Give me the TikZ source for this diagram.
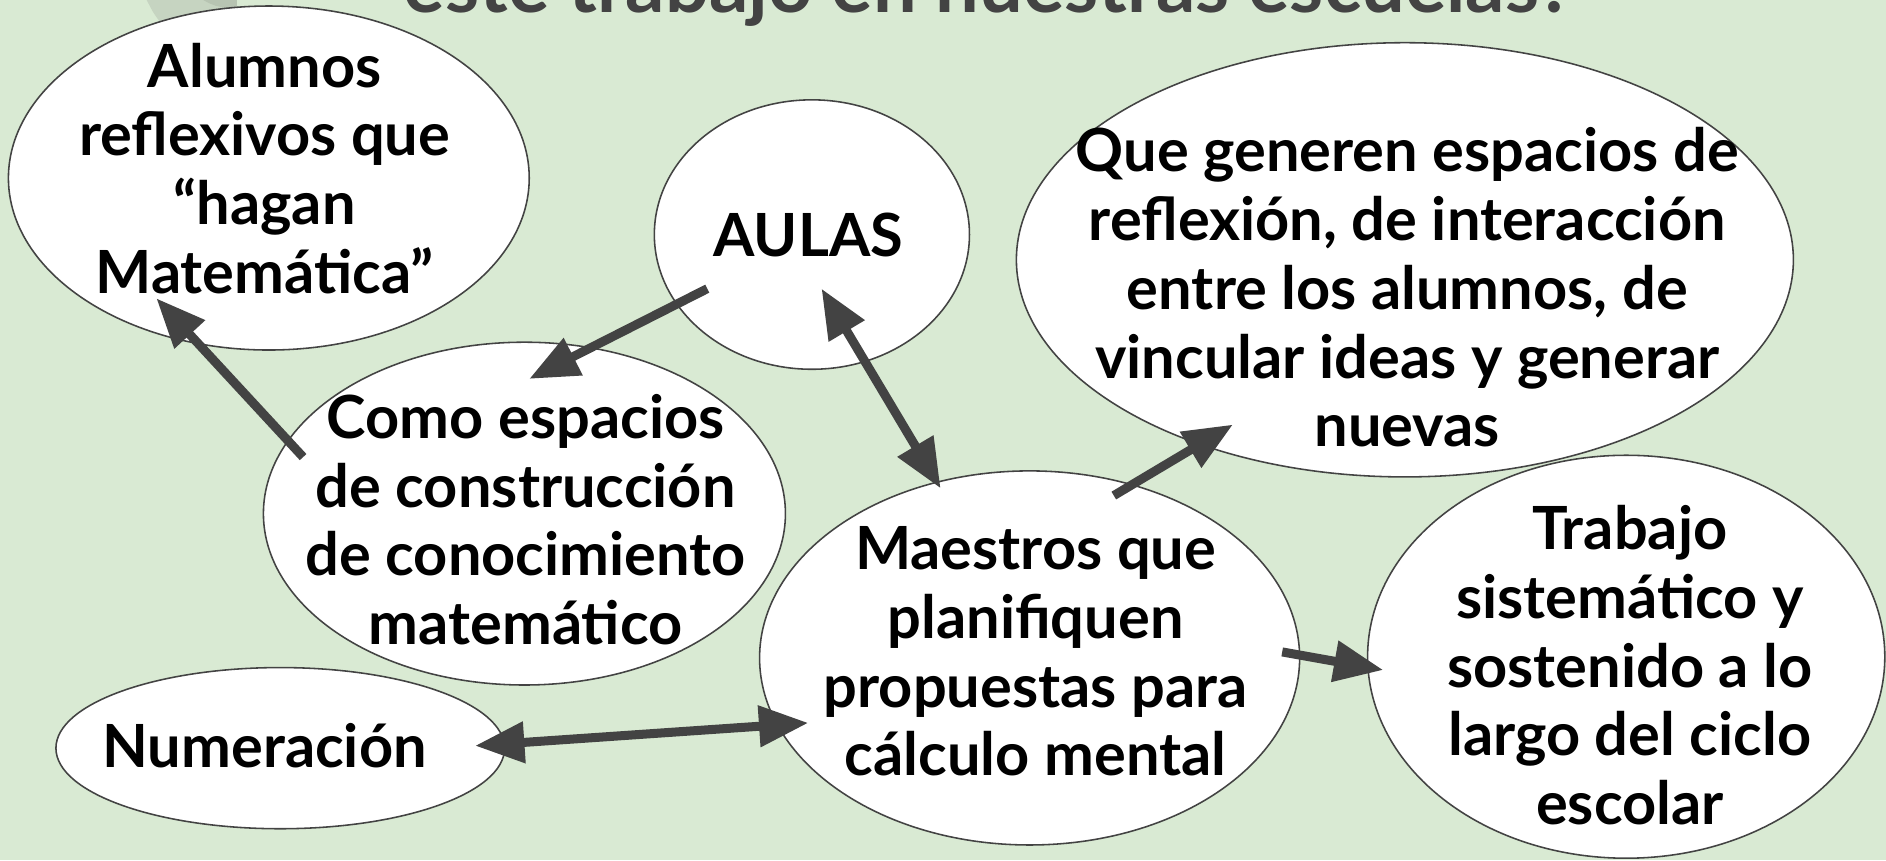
\documentclass[tikz,border=0pt]{standalone}
\usepackage{fontspec}
\setmainfont{Lato}
\usetikzlibrary{shapes.geometric,arrows.meta}
\definecolor{bg}{HTML}{D9EAD3}
\definecolor{dk}{HTML}{434343}
\definecolor{deco1}{HTML}{C6D4C1}
\definecolor{deco2}{HTML}{B7C4B2}
\begin{document}
\begin{tikzpicture}[x=1pt,y=-1pt,
  bub/.style={ellipse, draw=dk, line width=1.3pt, fill=white, inner sep=0pt},
  txt/.style={align=center, font=\fontsize{49.5}{57.2}\selectfont\bfseries, inner sep=0pt, text=black},
  arr/.style={draw=dk, line width=7.5pt, -{Triangle[length=41pt,width=33pt]}},
  darr/.style={draw=dk, line width=7.5pt, {Triangle[length=41pt,width=33pt]}-{Triangle[length=41pt,width=33pt]}}]
\useasboundingbox (0,0) rectangle (1568,715);
\clip (0,0) rectangle (1568,715);
\fill[bg] (0,0) rectangle (1568,715);
% decoration
\fill[deco1] (122,0) .. controls (128,12) .. (141,28) -- (197,28) -- (197,0) -- cycle;
\fill[deco2] (169,0) .. controls (178,5) .. (197,8) -- (197,0) -- cycle;
% title
\node[anchor=base, font=\fontsize{64.5}{66}\selectfont\bfseries, text=dk, inner sep=0pt] (title) at (822,10.5) {este trabajo en nuestras escuelas?};
% bubbles
\node[bub, minimum width=433pt, minimum height=286pt] (alumnosE) at (223.5,148) {};
\node[bub, minimum width=262pt, minimum height=224pt] (aulasE) at (675,195) {};
\node[bub, minimum width=646pt, minimum height=361pt] (queE) at (1168,216) {};
\node[bub, minimum width=434pt, minimum height=285pt] (comoE) at (436,427) {};
\node[bub, minimum width=449pt, minimum height=311pt] (maestrosE) at (856,547) {};
\node[bub, minimum width=430pt, minimum height=335pt] (trabajoE) at (1352,546) {};
\node[bub, minimum width=373pt, minimum height=134pt] (numE) at (233,622) {};
% connector ends
\coordinate (a1) at (252,380);  \coordinate (a2) at (130,248);
\coordinate (b1) at (588,240);  \coordinate (b2) at (440,315);
\coordinate (c1) at (683,240);  \coordinate (c2) at (782,406);
\coordinate (d1) at (926,412);  \coordinate (d2) at (1025,353);
\coordinate (e1) at (1066,542); \coordinate (e2) at (1150,557);
\coordinate (f1) at (395,620);  \coordinate (f2) at (672,601);
\draw[arr] (a1) -- (a2);
\draw[arr] (b1) -- (b2);
\draw[darr] (c1) -- (c2);
\draw[arr] (d1) -- (d2);
\draw[arr] (e1) -- (e2);
\draw[darr] (f1) -- (f2);
% texts
\node[txt] (alumnos) at (220,140) {Alumnos\\reflexivos que\\“hagan\\Matemática”};
\node[txt] (aulas) at (672,195) {AULAS};
\node[txt] (que) at (1170,239) {Que generen espacios de\\reflexión, de interacción\\entre los alumnos, de\\vincular ideas y generar\\nuevas};
\node[txt] (como) at (437,432) {Como espacios\\de construcción\\de conocimiento\\matemático};
\node[txt] (maestros) at (861,541.5) {Maestros que\\planifiquen\\propuestas para\\cálculo mental};
\node[txt] (trabajo) at (1355,553) {Trabajo\\sistemático y\\sostenido a lo\\largo del ciclo\\escolar};
\node[txt] (num) at (220,620) {Numeración};
\end{tikzpicture}
\end{document}
